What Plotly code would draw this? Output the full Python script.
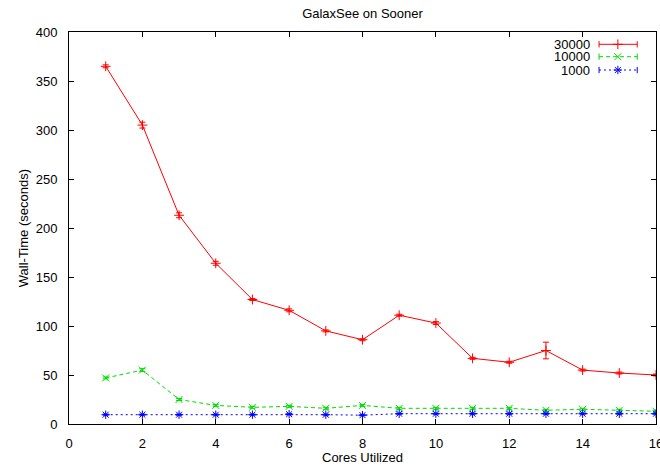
import plotly.graph_objects as go

cores = list(range(1, 17))
t30000 = [365, 305, 213, 164, 127, 116, 95, 86, 111, 103, 67, 63, 75, 55, 52, 50]
e30000 = [1.5, 3, 2.5, 2, 1, 1.5, 1, 1, 1, 1.5, 1, 1, 8.5, 1, 1, 1]
t10000 = [47, 55, 25, 19, 17, 18, 16, 19, 16, 16, 16, 16, 14, 15, 14, 13]
e10000 = [1, 1.5, 1, 1, 1, 1, 1, 1, 1, 1, 1, 1, 1, 1, 1, 1]
t1000 = [9.5, 9.5, 9.5, 9.5, 9.5, 10, 9.5, 9, 10.5, 10.5, 10.5, 10.5, 10.5, 10.5, 10.5, 10.5]
e1000 = [0.5] * 16
series_names = ["30000", "10000", "1000"]
x_ticks = list(range(0, 17, 2))
y_ticks = list(range(0, 401, 50))

colors = ["#ff0000", "#00dd00", "#0000ff"]
dashes = ["solid", "4px,3px", "2px,3px"]
symbols = ["cross-thin-open", "x-thin-open", "asterisk-open"]
datas = [(t30000, e30000), (t10000, e10000), (t1000, e1000)]

fig = go.Figure()
for name, (y, e), c, d, s in zip(series_names, datas, colors, dashes, symbols):
    fig.add_trace(go.Scatter(
        x=cores, y=y, name=name, mode="lines+markers",
        line=dict(color=c, width=1, dash=d),
        marker=dict(symbol=s, size=7, color=c, line=dict(color=c, width=1)),
        error_y=dict(type="data", array=e, visible=True, color=c, thickness=1, width=3),
        showlegend=False,
    ))

# custom gnuplot-style legend on an overlay axis (0..1 units of the plot area)
leg_y = [0.9686, 0.937, 0.903]
for name, c, d, s, ly in zip(series_names, colors, dashes, symbols, leg_y):
    fig.add_trace(go.Scatter(
        x=[0.903, 0.968], y=[ly, ly], mode="lines", xaxis="x2", yaxis="y2",
        line=dict(color=c, width=1, dash=d), showlegend=False, hoverinfo="skip",
        error_y=dict(type="constant", value=0.008, visible=True, color=c, thickness=1, width=0),
    ))
    fig.add_trace(go.Scatter(
        x=[0.935], y=[ly], mode="markers", xaxis="x2", yaxis="y2",
        marker=dict(symbol=s, size=7, color=c, line=dict(color=c, width=1)),
        showlegend=False, hoverinfo="skip",
    ))
    fig.add_annotation(x=0.891, y=ly, xref="x2", yref="y2", text=name,
                       showarrow=False, xanchor="right", yanchor="middle",
                       font=dict(size=13, color="#000000"))

fig.add_annotation(x=0.5, y=-0.0867, xref="paper", yref="paper", text="Cores Utilized",
                   showarrow=False, xanchor="center", yanchor="middle",
                   font=dict(size=13, color="#000000"))
fig.add_annotation(x=-0.078, y=0.5, xref="paper", yref="paper", text="Wall-Time (seconds)",
                   showarrow=False, xanchor="center", yanchor="middle", textangle=-90,
                   font=dict(size=13, color="#000000"))

axis_common = dict(showgrid=False, zeroline=False, showline=True, linecolor="#000000",
                   linewidth=1, mirror="ticks", ticks="inside", ticklen=5,
                   tickcolor="#000000", tickfont=dict(size=13, color="#000000"),
                   automargin=False, ticklabeloverflow="allow")
fig.update_layout(
    width=660, height=466,
    margin=dict(l=69, r=4, t=32, b=42),
    plot_bgcolor="white", paper_bgcolor="white",
    font=dict(family="Liberation Sans, Arial, sans-serif", size=13, color="#000000"),
    title=dict(text="GalaxSee on Sooner", x=0.5, xref="paper",
               xanchor="center", y=0.972, yanchor="middle", font=dict(size=13)),
    xaxis=dict(range=[0, 16], tickvals=x_ticks, ticklabelstandoff=7, **axis_common),
    yaxis=dict(range=[0, 400], tickvals=y_ticks, ticklabelstandoff=8, **axis_common),
    xaxis2=dict(range=[0, 1], overlaying="x", visible=False),
    yaxis2=dict(range=[0, 1], overlaying="y", visible=False),
)
fig.write_html("out.html", config={"displayModeBar": False},
               post_script="document.body.style.margin='0px';")
